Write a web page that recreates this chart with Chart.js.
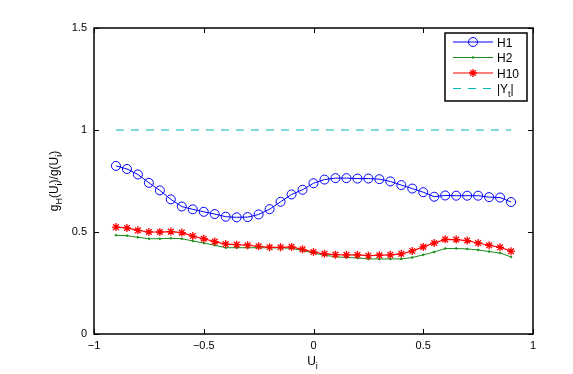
<!DOCTYPE html>
<html>
<head>
<meta charset="utf-8">
<script src="https://cdn.jsdelivr.net/npm/chart.js@4.4.1/dist/chart.umd.min.js"></script>
<style>
  html, body { margin: 0; padding: 0; background: #fff; }
  #wrap { width: 573px; height: 374px; }
</style>
</head>
<body>
<div id="wrap"><canvas id="chart" width="573" height="374"></canvas></div>
<script>
// x positions of the samples (U_i)
const uValues = [-0.9, -0.85, -0.8, -0.75, -0.7, -0.65, -0.6, -0.55, -0.5, -0.45,
                 -0.4, -0.35, -0.3, -0.25, -0.2, -0.15, -0.1, -0.05, 0, 0.05,
                 0.1, 0.15, 0.2, 0.25, 0.3, 0.35, 0.4, 0.45, 0.5, 0.55,
                 0.6, 0.65, 0.7, 0.75, 0.8, 0.85, 0.9];

const h1Values = [0.824, 0.809, 0.782, 0.741, 0.704, 0.660, 0.625, 0.611, 0.599, 0.588,
                  0.575, 0.572, 0.573, 0.586, 0.612, 0.648, 0.684, 0.707, 0.739, 0.757,
                  0.764, 0.764, 0.762, 0.762, 0.759, 0.748, 0.730, 0.713, 0.695, 0.673,
                  0.679, 0.678, 0.678, 0.678, 0.671, 0.669, 0.647];

const h2Values = [0.484, 0.482, 0.474, 0.467, 0.467, 0.469, 0.467, 0.456, 0.446, 0.435,
                  0.423, 0.423, 0.423, 0.423, 0.422, 0.422, 0.420, 0.409, 0.397, 0.386,
                  0.379, 0.375, 0.373, 0.368, 0.368, 0.368, 0.368, 0.375, 0.388, 0.402,
                  0.419, 0.419, 0.417, 0.412, 0.404, 0.397, 0.378];

const h10Values = [0.524, 0.520, 0.508, 0.500, 0.500, 0.502, 0.497, 0.480, 0.467, 0.453,
                   0.441, 0.438, 0.435, 0.430, 0.425, 0.425, 0.427, 0.415, 0.402, 0.393,
                   0.389, 0.388, 0.388, 0.384, 0.386, 0.388, 0.393, 0.407, 0.427, 0.446,
                   0.464, 0.463, 0.458, 0.446, 0.435, 0.425, 0.406];

// |Y_t| reference level
const ytX = [-0.9, 0.9];
const ytValues = [1, 1];

const xTicks = [-1, -0.5, 0, 0.5, 1];
const yTicks = [0, 0.5, 1, 1.5];

function toPoints(xs, ys) {
    return xs.map((x, i) => ({ x: x, y: ys[i] }));
}

function fmt(v) {
    return String(v).replace('-', '\u2212');
}

const FONT = 'Liberation Sans, Arial, Helvetica, sans-serif';

// Draws the MATLAB style box, inward ticks, axis titles and legend
const matlabFrame = {
    id: 'matlabFrame',
    afterDraw(chart) {
        const ctx = chart.ctx;
        const a = chart.chartArea;
        const xs = chart.scales.x;
        const ys = chart.scales.y;
        ctx.save();
        ctx.strokeStyle = '#000';
        ctx.lineWidth = 1.5;
        ctx.strokeRect(a.left, a.top, a.right - a.left, a.bottom - a.top);

        // ticks pointing inside
        ctx.lineWidth = 1;
        ctx.beginPath();
        xTicks.forEach(v => {
            const px = Math.round(xs.getPixelForValue(v)) + 0.5;
            ctx.moveTo(px, a.bottom); ctx.lineTo(px, a.bottom - 5);
            ctx.moveTo(px, a.top); ctx.lineTo(px, a.top + 5);
        });
        yTicks.forEach(v => {
            const py = Math.round(ys.getPixelForValue(v)) + 0.5;
            ctx.moveTo(a.left, py); ctx.lineTo(a.left + 5, py);
            ctx.moveTo(a.right, py); ctx.lineTo(a.right - 5, py);
        });
        ctx.stroke();

        // x axis title: U_i
        ctx.fillStyle = '#000';
        ctx.textBaseline = 'alphabetic';
        ctx.textAlign = 'left';
        ctx.font = '12px ' + FONT;
        const cx = (a.left + a.right) / 2;
        const uw = ctx.measureText('U').width;
        ctx.fillText('U', cx - uw / 2 - 2, 365);
        ctx.font = '9px ' + FONT;
        ctx.fillText('i', cx + uw / 2 - 2, 369);

        // y axis title: g_H(U_i)/g(U_i), rotated
        ctx.save();
        ctx.translate(58, (a.top + a.bottom) / 2);
        ctx.rotate(-Math.PI / 2);
        const parts = [['g', 0], ['H', 1], ['(U', 0], ['i', 1], [')/g(U', 0], ['i', 1], [')', 0]];
        let total = 0;
        parts.forEach(p => {
            ctx.font = (p[1] ? '9px ' : '12px ') + FONT;
            total += ctx.measureText(p[0]).width;
        });
        let x = -total / 2;
        parts.forEach(p => {
            ctx.font = (p[1] ? '9px ' : '12px ') + FONT;
            ctx.fillText(p[0], x, p[1] ? 4 : 0);
            x += ctx.measureText(p[0]).width;
        });
        ctx.restore();

        // legend
        const box = { left: 445, top: 33, right: 527, bottom: 101 };
        ctx.fillStyle = '#fff';
        ctx.fillRect(box.left, box.top, box.right - box.left, box.bottom - box.top);
        ctx.strokeStyle = '#000';
        ctx.lineWidth = 1.5;
        ctx.strokeRect(box.left, box.top, box.right - box.left, box.bottom - box.top);
        const rows = [42, 57.5, 73, 88.5];
        chart.data.datasets.forEach((ds, i) => {
            const y = rows[i];
            ctx.save();
            ctx.strokeStyle = ds.borderColor;
            ctx.lineWidth = ds.borderWidth;
            ctx.setLineDash(ds.borderDash || []);
            ctx.beginPath();
            ctx.moveTo(453, y); ctx.lineTo(493, y);
            ctx.stroke();
            ctx.restore();
            if (ds.pointRadius > 0) {
                ctx.save();
                ctx.fillStyle = ds.pointBackgroundColor;
                ctx.strokeStyle = ds.pointBorderColor;
                ctx.lineWidth = ds.pointBorderWidth;
                Chart.helpers.drawPoint(ctx, {
                    pointStyle: ds.pointStyle,
                    radius: ds.pointRadius,
                    borderWidth: ds.pointBorderWidth,
                    rotation: 0
                }, 473, y);
                ctx.restore();
            }
            ctx.fillStyle = '#000';
            ctx.font = '12px ' + FONT;
            if (ds.label === '|Y_t|') {
                ctx.fillText('|Y', 497, y + 4.5);
                const w = ctx.measureText('|Y').width;
                ctx.font = '9px ' + FONT;
                ctx.fillText('t', 497 + w, y + 8);
                const w2 = ctx.measureText('t').width;
                ctx.font = '12px ' + FONT;
                ctx.fillText('|', 497 + w + w2, y + 4.5);
            } else {
                ctx.fillText(ds.label, 497, y + 4.5);
            }
        });
        ctx.restore();
    }
};

new Chart(document.getElementById('chart'), {
    type: 'scatter',
    data: {
        datasets: [
            {
                label: 'H1',
                data: toPoints(uValues, h1Values),
                showLine: true,
                borderColor: '#0000ff',
                borderWidth: 1,
                pointStyle: 'circle',
                pointRadius: 4.5,
                pointBorderWidth: 1,
                pointBorderColor: '#0000ff',
                pointBackgroundColor: 'rgba(0,0,0,0)',
                order: 4
            },
            {
                label: 'H2',
                data: toPoints(uValues, h2Values),
                showLine: true,
                borderColor: '#1a8c1a',
                borderWidth: 1,
                pointStyle: 'circle',
                pointRadius: 1,
                pointBorderWidth: 0.5,
                pointBorderColor: '#1a8c1a',
                pointBackgroundColor: '#1a8c1a',
                order: 3
            },
            {
                label: 'H10',
                data: toPoints(uValues, h10Values),
                showLine: true,
                borderColor: '#ff0000',
                borderWidth: 1.2,
                pointStyle: 'star',
                pointRadius: 4,
                pointBorderWidth: 1.3,
                pointBorderColor: '#ff0000',
                pointBackgroundColor: '#ff0000',
                order: 2
            },
            {
                label: '|Y_t|',
                data: toPoints(ytX, ytValues),
                showLine: true,
                borderColor: '#00b8b8',
                borderWidth: 1,
                borderDash: [8, 7],
                pointRadius: 0,
                order: 1
            }
        ]
    },
    options: {
        responsive: false,
        animation: false,
        layout: { padding: { left: 0, top: 28, right: 40, bottom: 0 } },
        plugins: {
            legend: { display: false },
            tooltip: { enabled: false }
        },
        scales: {
            x: {
                type: 'linear',
                min: -1,
                max: 1,
                afterFit: s => { s.height = 40; },
                afterBuildTicks: s => { s.ticks = xTicks.map(v => ({ value: v })); },
                grid: { display: false, drawTicks: false },
                border: { display: false },
                ticks: {
                    color: '#000',
                    padding: 5,
                    font: { family: FONT, size: 11 },
                    maxRotation: 0,
                    callback: v => fmt(v)
                }
            },
            y: {
                type: 'linear',
                min: 0,
                max: 1.5,
                afterFit: s => { s.width = 94; },
                afterBuildTicks: s => { s.ticks = yTicks.map(v => ({ value: v })); },
                grid: { display: false, drawTicks: false },
                border: { display: false },
                ticks: {
                    color: '#000',
                    padding: 7,
                    font: { family: FONT, size: 11 },
                    callback: v => fmt(v)
                }
            }
        }
    },
    plugins: [matlabFrame]
});
</script>
</body>
</html>
